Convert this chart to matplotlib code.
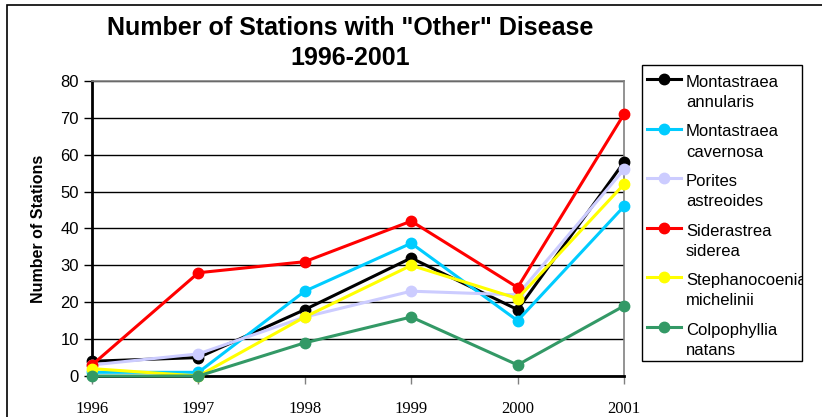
import matplotlib.pyplot as plt
from matplotlib.patches import Rectangle
from matplotlib.lines import Line2D
from matplotlib.transforms import Bbox, TransformedBbox

years = [1996, 1997, 1998, 1999, 2000, 2001]
species = ["Montastraea\nannularis", "Montastraea\ncavernosa", "Porites\nastreoides",
           "Siderastrea\nsiderea", "Stephanocoenia\nmichelinii", "Colpophyllia\nnatans"]
annularis = [4, 5, 18, 32, 18, 58]
cavernosa = [1, 1, 23, 36, 15, 46]
porites = [3, 6, 16, 23, 22, 56]
siderastrea = [3, 28, 31, 42, 24, 71]
stephanocoenia = [2, 0, 16, 30, 21, 52]
colpophyllia = [0, 0, 9, 16, 3, 19]
series = [annularis, cavernosa, porites, siderastrea, stephanocoenia, colpophyllia]
colors = ["#000000", "#00CCFF", "#CCCCFF", "#FF0000", "#FFFF00", "#339966"]

W, H = 822, 417
fig = plt.figure(figsize=(W / 100, H / 100), dpi=100)
# outer chart border (left and top visible)
fig.patches.append(Rectangle((7 / W, -0.1), 1.2, 1 - 5 / H + 0.1, transform=fig.transFigure,
                             fill=False, edgecolor="black", linewidth=1.2))
ax = fig.add_axes([92 / W, 41 / H, 532 / W, 295 / H])

for i, (vals, c) in enumerate(zip(series, colors)):
    ax.plot(years, vals, color=c, linewidth=2.2, marker="o", markersize=7.5,
            clip_on=False, zorder=3 + i)

ax.set_xlim(1996, 2001)
ax.set_ylim(0, 80)
ax.set_yticks(range(0, 81, 10))
ax.set_xticks(years)
ax.yaxis.grid(True, color="black", linewidth=1)
ax.set_axisbelow(True)
for s in ["top", "right"]:
    ax.spines[s].set_color("#808080")
    ax.spines[s].set_linewidth(1.2)
for s in ["left", "bottom"]:
    ax.spines[s].set_linewidth(2)
ax.tick_params(axis="y", direction="out", length=6, width=1, labelsize=12)
ax.tick_params(axis="x", direction="out", length=6, width=1, color="#808080", pad=12)
for t in ax.get_yticklabels():
    t.set_fontfamily("Liberation Sans")
for t in ax.get_xticklabels():
    t.set_fontfamily("Liberation Serif")
    t.set_fontsize(12)
ax.set_ylabel("Number of Stations", fontsize=11.5, fontweight="bold",
              fontfamily="Liberation Sans", labelpad=10)

fig.text(350 / W, 1 - 43 / H, 'Number of Stations with "Other" Disease\n1996-2001',
         ha="center", va="center", fontsize=18, fontweight="bold",
         fontfamily="Liberation Sans", linespacing=1.35)

# legend box drawn by hand so the handle sits on the first text line
box_l, box_r, box_t, box_b = 642, 802, 65, 361
fig.patches.append(Rectangle((box_l / W, 1 - box_b / H), (box_r - box_l) / W,
                             (box_b - box_t) / H, transform=fig.transFigure,
                             fill=False, edgecolor="black", linewidth=1, zorder=5))
clip = TransformedBbox(Bbox([[box_l / W, 1 - box_b / H], [box_r / W, 1 - box_t / H]]),
                       fig.transFigure)
for i, (lab, c) in enumerate(zip(species, colors)):
    y = 1 - (79 + 49.5 * i) / H
    fig.add_artist(Line2D([647 / W, 681 / W], [y, y], transform=fig.transFigure,
                          color=c, linewidth=2.2))
    fig.add_artist(Line2D([664 / W], [y], transform=fig.transFigure, color=c,
                          marker="o", markersize=7.5))
    t = fig.text(686 / W, y + 4 / H, lab, ha="left", va="top", fontsize=12,
                 fontfamily="Liberation Sans", linespacing=1.45)
    t.set_clip_box(clip)
    t.set_clip_on(True)

fig.savefig("out.png", dpi=100)
